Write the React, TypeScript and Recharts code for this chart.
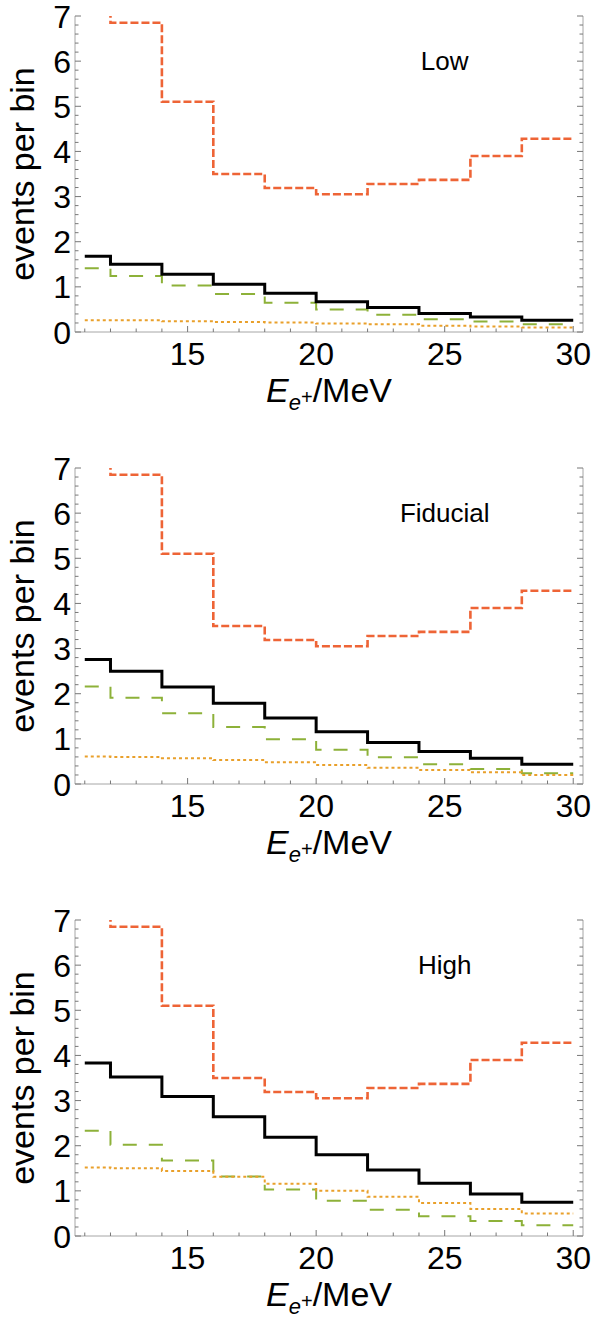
import { Line, LineChart, ReferenceDot, XAxis, YAxis } from 'recharts'

// bin edges (MeV) - the last edge closes the final bin
const binEdges = [11, 12, 14, 16, 18, 20, 22, 24, 26, 28, 30]

// dashed red curve is the same in all three panels (first bin runs off the top)
const redDashed = [7.3, 6.85, 5.1, 3.5, 3.19, 3.05, 3.28, 3.37, 3.9, 4.28]

const lowBlack = [1.68, 1.5, 1.28, 1.06, 0.86, 0.67, 0.54, 0.41, 0.33, 0.26]
const lowGreen = [1.41, 1.24, 1.03, 0.84, 0.65, 0.5, 0.38, 0.28, 0.23, 0.17]
const lowDotted = [0.26, 0.26, 0.24, 0.22, 0.21, 0.19, 0.17, 0.14, 0.12, 0.1]

const fidBlack = [2.76, 2.5, 2.15, 1.79, 1.46, 1.16, 0.92, 0.72, 0.57, 0.44]
const fidGreen = [2.16, 1.91, 1.57, 1.26, 0.99, 0.76, 0.59, 0.44, 0.33, 0.24]
const fidDotted = [0.61, 0.6, 0.57, 0.53, 0.48, 0.42, 0.36, 0.31, 0.26, 0.2]

const highBlack = [3.83, 3.52, 3.09, 2.64, 2.19, 1.8, 1.46, 1.17, 0.93, 0.75]
const highGreen = [2.33, 2.02, 1.67, 1.32, 1.03, 0.78, 0.58, 0.44, 0.33, 0.24]
const highDotted = [1.52, 1.5, 1.44, 1.31, 1.16, 1.0, 0.87, 0.73, 0.6, 0.5]

const xMajor = [15, 20, 25, 30]
const xTicks = Array.from({ length: 20 }, (_, i) => 11 + i)
const yMajor = [0, 1, 2, 3, 4, 5, 6, 7]
const yTicks = Array.from({ length: 36 }, (_, i) => Math.round(i * 2) / 10)

const X_DOMAIN: [number, number] = [10.62, 30.38]
const FRAME = '#a6a6a6'
const TICK = '#777'
const FONT = '"Liberation Sans", Arial, Helvetica, sans-serif'

function rows(black: number[], green: number[], dotted: number[]) {
  return binEdges.map((x, i) => {
    const k = Math.min(i, black.length - 1)
    return { x, red: redDashed[k], black: black[k], green: green[k], dotted: dotted[k] }
  })
}

const isMajor = (v: number, majors: number[]) => majors.some((m) => Math.abs(m - v) < 1e-6)

function BottomTick({ x, y, payload }: any) {
  const major = isMajor(payload.value, xMajor)
  return (
    <g>
      <line x1={x} x2={x} y1={y} y2={y - (major ? 6 : 3.5)} stroke={TICK} strokeWidth={1} />
      {major && (
        <text x={x} y={y + 33} textAnchor="middle" fontSize={32} fontFamily={FONT} fill="#000">
          {payload.value}
        </text>
      )}
    </g>
  )
}

function TopTick({ x, y, payload }: any) {
  const major = isMajor(payload.value, xMajor)
  return <line x1={x} x2={x} y1={y} y2={y + (major ? 6 : 3.5)} stroke={TICK} strokeWidth={1} />
}

function LeftTick({ x, y, payload }: any) {
  const major = isMajor(payload.value, yMajor)
  return (
    <g>
      <line x1={x} x2={x + (major ? 6 : 3.5)} y1={y} y2={y} stroke={TICK} strokeWidth={1} />
      {major && (
        <text x={x - 4} y={y} dy="0.36em" textAnchor="end" fontSize={32} fontFamily={FONT} fill="#000">
          {payload.value}
        </text>
      )}
    </g>
  )
}

function RightTick({ x, y, payload }: any) {
  const major = isMajor(payload.value, yMajor)
  return <line x1={x} x2={x - (major ? 6 : 3.5)} y1={y} y2={y} stroke={TICK} strokeWidth={1} />
}

function XTitle({ viewBox }: any) {
  const cx = viewBox.x + viewBox.width / 2
  return (
    <text x={cx} y={viewBox.y + 70} textAnchor="middle" fontSize={34} fontFamily={FONT} fill="#000">
      <tspan fontStyle="italic">E</tspan>
      <tspan fontStyle="italic" fontSize={22} dy={8}>e</tspan>
      <tspan fontSize={20} dy={-6}>+</tspan>
      <tspan dy={-2}>/MeV</tspan>
    </text>
  )
}

function YTitle({ viewBox }: any) {
  const cy = viewBox.y + viewBox.height / 2
  return (
    <text
      x={34}
      y={cy}
      transform={`rotate(-90, 34, ${cy})`}
      textAnchor="middle"
      fontSize={34}
      fontFamily={FONT}
      fill="#000"
    >
      events per bin
    </text>
  )
}

function Panel({ label, data, height }: { label: string; data: any[]; height: number }) {
  return (
    <LineChart width={595} height={height} data={data} margin={{ top: 16, right: 0, bottom: 0, left: 0 }}>
      <XAxis
        dataKey="x"
        type="number"
        domain={X_DOMAIN}
        allowDataOverflow
        ticks={xTicks}
        interval={0}
        tickLine={false}
        tickSize={0}
        tickMargin={0}
        tick={<BottomTick />}
        height={height - 16 - 316}
        stroke={FRAME}
        label={<XTitle />}
      />
      <XAxis
        xAxisId="top"
        orientation="top"
        dataKey="x"
        type="number"
        domain={X_DOMAIN}
        allowDataOverflow
        ticks={xTicks}
        interval={0}
        tickLine={false}
        tickSize={0}
        tickMargin={0}
        tick={<TopTick />}
        height={0}
        stroke={FRAME}
      />
      <YAxis
        type="number"
        domain={[0, 7]}
        allowDataOverflow
        ticks={yTicks}
        interval={0}
        tickLine={false}
        tickSize={0}
        tickMargin={0}
        tick={<LeftTick />}
        width={75}
        stroke={FRAME}
        label={<YTitle />}
      />
      <YAxis
        yAxisId="right"
        orientation="right"
        type="number"
        domain={[0, 7]}
        allowDataOverflow
        ticks={yTicks}
        interval={0}
        tickLine={false}
        tickSize={0}
        tickMargin={0}
        tick={<RightTick />}
        width={12}
        stroke={FRAME}
      />
      <Line type="stepAfter" dataKey="green" stroke="#8db139" strokeWidth={2} strokeDasharray="14 12" dot={false} isAnimationActive={false} />
      <Line type="stepAfter" dataKey="dotted" stroke="#e9a02b" strokeWidth={2} strokeDasharray="3 3" dot={false} isAnimationActive={false} />
      <Line type="stepAfter" dataKey="black" stroke="#000" strokeWidth={3} dot={false} isAnimationActive={false} />
      <Line type="stepAfter" dataKey="red" stroke="#ee6436" strokeWidth={2.6} strokeDasharray="8 3" dot={false} isAnimationActive={false} />
      <ReferenceDot
        x={25}
        y={6}
        r={0}
        fill="none"
        stroke="none"
        label={{ value: label, position: 'center', fontSize: 26, fontFamily: FONT, fill: '#000' }}
      />
    </LineChart>
  )
}

export default function App() {
  return (
    <div style={{ width: 595, height: 1322, background: '#fff' }}>
      <style>{'body{margin:0}'}</style>
      <Panel label="Low" data={rows(lowBlack, lowGreen, lowDotted)} height={452} />
      <Panel label="Fiducial" data={rows(fidBlack, fidGreen, fidDotted)} height={452} />
      <Panel label="High" data={rows(highBlack, highGreen, highDotted)} height={418} />
    </div>
  )
}
